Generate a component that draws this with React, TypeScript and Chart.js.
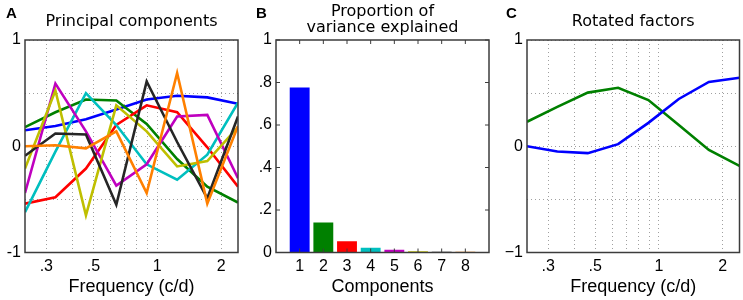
import React, { useEffect, useRef } from "react";
import { Chart, registerables } from "chart.js";

Chart.register(...registerables);

const CANVAS_W = 743;
const CANVAS_H = 300;

// Frequencies (c/d) of the 8 bands
const FREQUENCIES = [0.238, 0.331, 0.461, 0.641, 0.891, 1.24, 1.72, 2.4];

// Panel A: principal component loadings
const PC_1 = [0.15, 0.19, 0.255, 0.345, 0.44, 0.475, 0.46, 0.4];
const PC_2 = [0.18, 0.32, 0.44, 0.43, 0.21, -0.12, -0.38, -0.53];
const PC_3 = [-0.54, -0.48, -0.21, 0.2, 0.385, 0.32, -0.01, -0.38];
const PC_4 = [-0.62, -0.05, 0.5, 0.2, -0.17, -0.315, -0.08, 0.41];
const PC_5 = [-0.44, 0.59, 0.14, -0.37, -0.17, 0.28, 0.295, -0.3];
const PC_6 = [-0.21, 0.525, -0.65, 0.385, 0.14, -0.19, -0.14, 0.18];
const PC_7 = [-0.09, 0.12, 0.11, -0.55, 0.61, 0.04, -0.49, 0.28];
const PC_8 = [0.0, 0.01, -0.02, 0.14, -0.44, 0.69, -0.54, 0.19];
const PC_SERIES = [PC_1, PC_2, PC_3, PC_4, PC_5, PC_6, PC_7, PC_8];
const PC_COLORS = ["#0000ff", "#008000", "#ff0000", "#00bfbf", "#bf00bf", "#bfbf00", "#262626", "#ff8000"];

// Panel B: proportion of variance explained
const COMPONENTS = [1, 2, 3, 4, 5, 6, 7, 8];
const VARIANCE_EXPLAINED = [0.777, 0.141, 0.053, 0.022, 0.0125, 0.006, 0.003, 0.003];

// Panel C: rotated factors
const ROTATED_1 = [0.0, -0.05, -0.065, 0.02, 0.22, 0.445, 0.605, 0.645];
const ROTATED_2 = [0.23, 0.37, 0.505, 0.55, 0.435, 0.2, -0.035, -0.185];
const ROTATED_COLORS = ["#0000ff", "#008000"];

// Ticks
const FREQ_GRID = [0.3, 0.4, 0.5, 0.6, 0.7, 0.8, 0.9, 1, 2];
const FREQ_LABEL_VALUES = [0.3, 0.5, 1, 2];
const FREQ_LABEL_TEXT = [".3", ".5", "1", "2"];
const LOAD_GRID = [-1, -0.5, 0, 0.5, 1];
const LOAD_LABEL_VALUES = [-1, 0, 1];
const LOAD_LABEL_TEXT_A = ["-1", "0", "1"];
const LOAD_LABEL_TEXT_C = ["\u22121", "0", "1"];
const PROP_TICKS = [0, 0.2, 0.4, 0.6, 0.8, 1];
const PROP_LABELS = ["0", ".2", ".4", ".6", ".8", "1"];

const TICK_FONT = { family: "'Liberation Sans', Arial, sans-serif", size: 16 };
const AXIS_TITLE_FONT = { family: "'Liberation Sans', Arial, sans-serif", size: 18 };
const GRID_COLOR = "#a0a0a0";
const SPINE_COLOR = "#3c3c3c";

const PLOT_TOP = 40;
const X_AXIS_H = 47.5;
const Y_AXIS_W = 25;

const labelFor = (values: number[], texts: string[]) => (v: any) => {
  const n = Number(v);
  for (let i = 0; i < values.length; i++) {
    if (Math.abs(values[i] - n) < 1e-6) return texts[i];
  }
  return "";
};

const framePlugin = {
  id: "frame",
  afterDraw(chart: any, _args: any, opts: any) {
    const { ctx, chartArea: a } = chart;
    ctx.save();
    ctx.strokeStyle = SPINE_COLOR;
    ctx.lineWidth = 1.5;
    ctx.strokeRect(a.left, a.top, a.right - a.left, a.bottom - a.top);
    ctx.lineWidth = 1;
    if (opts.yTicks) {
      for (const v of opts.yTicks) {
        const y = chart.scales.y.getPixelForValue(v);
        ctx.beginPath();
        ctx.moveTo(a.left, y);
        ctx.lineTo(a.left + 4, y);
        ctx.moveTo(a.right - 4, y);
        ctx.lineTo(a.right, y);
        ctx.stroke();
      }
    }
    if (opts.xTicks) {
      for (const v of opts.xTicks) {
        const x = chart.scales.x.getPixelForValue(v);
        ctx.beginPath();
        ctx.moveTo(x, a.bottom);
        ctx.lineTo(x, a.bottom - 4);
        ctx.moveTo(x, a.top);
        ctx.lineTo(x, a.top + 4);
        ctx.stroke();
      }
    }
    ctx.fillStyle = "#000";
    ctx.textBaseline = "alphabetic";
    ctx.textAlign = "left";
    ctx.font = "bold 15px 'Liberation Sans', Arial, sans-serif";
    ctx.fillText(opts.letter, opts.letterX, 18);
    ctx.textAlign = "center";
    ctx.font = "16px 'DejaVu Sans', sans-serif";
    const cx = (a.left + a.right) / 2;
    opts.title.forEach((line: string, i: number) => {
      ctx.fillText(line, cx, opts.titleY[i]);
    });
    ctx.restore();
  },
};

const logXScale = () => ({
  type: "logarithmic",
  min: FREQUENCIES[0],
  max: FREQUENCIES[FREQUENCIES.length - 1],
  afterBuildTicks: (scale: any) => {
    scale.ticks = FREQ_GRID.map((v) => ({ value: v }));
  },
  afterFit: (scale: any) => {
    scale.height = X_AXIS_H;
  },
  ticks: {
    autoSkip: false,
    maxRotation: 0,
    padding: 4,
    color: "#000",
    font: TICK_FONT,
    callback: labelFor(FREQ_LABEL_VALUES, FREQ_LABEL_TEXT),
  },
  grid: { color: GRID_COLOR, lineWidth: 1, drawTicks: false },
  border: { display: false, dash: [1, 3] },
  title: { display: true, text: "Frequency (c/d)", color: "#000", font: AXIS_TITLE_FONT, padding: { top: 0, bottom: 2 } },
});

const loadYScale = (texts: string[]) => ({
  type: "linear",
  min: -1,
  max: 1,
  afterBuildTicks: (scale: any) => {
    scale.ticks = LOAD_GRID.map((v) => ({ value: v }));
  },
  afterFit: (scale: any) => {
    scale.width = Y_AXIS_W;
  },
  ticks: {
    autoSkip: false,
    padding: 4,
    color: "#000",
    font: TICK_FONT,
    callback: labelFor(LOAD_LABEL_VALUES, texts),
  },
  grid: { color: GRID_COLOR, lineWidth: 1, drawTicks: false },
  border: { display: false, dash: [1, 3] },
});

const basePadding = (plotLeft: number, plotRight: number) => ({
  left: plotLeft - Y_AXIS_W,
  right: CANVAS_W - plotRight,
  top: PLOT_TOP,
  bottom: 0,
});

function makeConfigA(): any {
  return {
    type: "line",
    data: {
      datasets: PC_SERIES.map((s, i) => ({
        label: `PC${i + 1}`,
        data: s.map((y, j) => ({ x: FREQUENCIES[j], y })),
        borderColor: PC_COLORS[i],
        borderWidth: 2.6,
        pointRadius: 0,
        tension: 0,
        fill: false,
        order: PC_SERIES.length - i,
      })),
    },
    options: {
      responsive: false,
      animation: false,
      events: [],
      layout: { padding: basePadding(25, 238) },
      plugins: {
        legend: { display: false },
        tooltip: { enabled: false },
        frame: { letter: "A", letterX: 6, title: ["Principal components"], titleY: [26] },
      },
      scales: { x: logXScale(), y: loadYScale(LOAD_LABEL_TEXT_A) },
    },
    plugins: [framePlugin],
  };
}

function makeConfigB(): any {
  return {
    type: "bar",
    data: {
      datasets: [
        {
          label: "Proportion",
          data: COMPONENTS.map((c, i) => ({ x: c, y: VARIANCE_EXPLAINED[i] })),
          backgroundColor: PC_COLORS,
          borderWidth: 0,
          barPercentage: 0.84,
          categoryPercentage: 1,
        },
      ],
    },
    options: {
      responsive: false,
      animation: false,
      events: [],
      layout: { padding: basePadding(276, 489) },
      plugins: {
        legend: { display: false },
        tooltip: { enabled: false },
        frame: {
          letter: "B",
          letterX: 256,
          title: ["Proportion of", "variance explained"],
          titleY: [16, 32],
          yTicks: PROP_TICKS,
          xTicks: COMPONENTS,
        },
      },
      scales: {
        x: {
          type: "linear",
          min: 0,
          max: 9,
          offset: false,
          afterBuildTicks: (scale: any) => {
            scale.ticks = COMPONENTS.map((v) => ({ value: v }));
          },
          afterFit: (scale: any) => {
            scale.height = X_AXIS_H;
          },
          ticks: { autoSkip: false, maxRotation: 0, padding: 4, color: "#000", font: TICK_FONT, callback: (v: any) => String(v) },
          grid: { display: false, drawTicks: false },
          border: { display: false },
          title: { display: true, text: "Components", color: "#000", font: AXIS_TITLE_FONT, padding: { top: 0, bottom: 2 } },
        },
        y: {
          type: "linear",
          min: 0,
          max: 1,
          afterBuildTicks: (scale: any) => {
            scale.ticks = PROP_TICKS.map((v) => ({ value: v }));
          },
          afterFit: (scale: any) => {
            scale.width = Y_AXIS_W;
          },
          ticks: { autoSkip: false, padding: 4, color: "#000", font: TICK_FONT, callback: labelFor(PROP_TICKS, PROP_LABELS) },
          grid: { display: false, drawTicks: false },
          border: { display: false },
        },
      },
    },
    plugins: [framePlugin],
  };
}

function makeConfigC(): any {
  const series = [ROTATED_1, ROTATED_2];
  return {
    type: "line",
    data: {
      datasets: series.map((s, i) => ({
        label: `Factor ${i + 1}`,
        data: s.map((y, j) => ({ x: FREQUENCIES[j], y })),
        borderColor: ROTATED_COLORS[i],
        borderWidth: 2.6,
        pointRadius: 0,
        tension: 0,
        fill: false,
      })),
    },
    options: {
      responsive: false,
      animation: false,
      events: [],
      layout: { padding: basePadding(527, 739.5) },
      plugins: {
        legend: { display: false },
        tooltip: { enabled: false },
        frame: { letter: "C", letterX: 506, title: ["Rotated factors"], titleY: [26] },
      },
      scales: { x: logXScale(), y: loadYScale(LOAD_LABEL_TEXT_C) },
    },
    plugins: [framePlugin],
  };
}

function Panel({ make }: { make: () => any }) {
  const ref = useRef<HTMLCanvasElement | null>(null);
  useEffect(() => {
    if (!ref.current) return;
    const chart = new Chart(ref.current, make());
    return () => chart.destroy();
  }, [make]);
  return (
    <canvas
      ref={ref}
      width={CANVAS_W}
      height={CANVAS_H}
      style={{ position: "absolute", left: 0, top: 0, width: CANVAS_W, height: CANVAS_H }}
    />
  );
}

export default function App() {
  return (
    <div style={{ position: "absolute", left: 0, top: 0, width: CANVAS_W, height: CANVAS_H, background: "#fff", overflow: "hidden" }}>
      <Panel make={makeConfigA} />
      <Panel make={makeConfigB} />
      <Panel make={makeConfigC} />
    </div>
  );
}
